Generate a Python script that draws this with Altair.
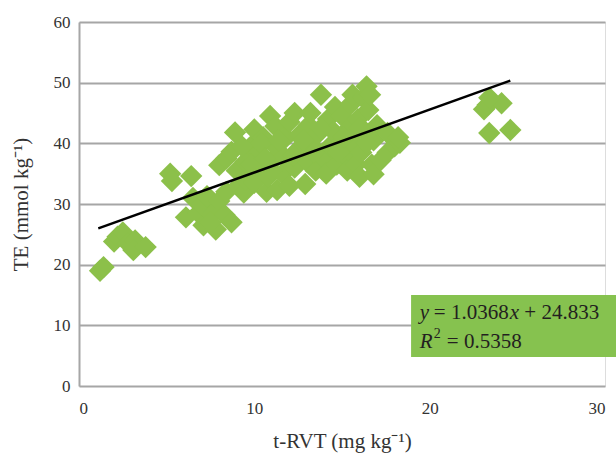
import altair as alt
import pandas as pd

# scatter data (t-RVT, TE)
x_vals = [1.2, 1.4,
          2.0, 2.2, 2.5, 2.8, 3.2, 3.1, 3.8,
          5.2, 5.3, 6.4,
          6.1, 6.5, 6.8, 7.1, 7.0, 7.3, 7.6, 7.8, 8.0, 8.3, 8.7, 8.4, 7.5,
          8.0, 8.4, 8.7, 8.9, 9.1, 9.4, 9.0,
          9.5, 9.5, 9.8, 10.0, 10.0, 10.2, 10.3, 10.5, 10.7, 10.8, 10.9, 11.0, 11.2, 11.2,
          11.3, 11.6, 11.7, 11.8, 12.0, 12.0, 12.3, 12.3, 12.5, 12.6, 12.9, 13.0, 13.1, 13.2,
          13.3, 13.5, 13.6, 13.8, 14.0, 14.1, 14.2, 14.3, 14.5, 14.6, 14.7, 14.9, 15.0, 15.2,
          15.3, 15.4, 15.5, 15.6, 15.7, 15.8, 15.9, 16.0, 16.1, 16.2, 16.3, 16.4, 16.5, 16.6,
          16.7, 16.8, 16.8, 17.0, 17.2, 17.6, 17.6, 18.0, 18.3, 18.2,
          9.8, 10.4, 11.4, 11.0, 12.2, 12.8, 13.4, 13.8, 14.8, 15.1, 16.4, 16.0, 10.6, 9.3,
          23.1, 23.3, 24.1, 23.4, 24.6, 23.4]
y_vals = [19.0, 19.6,
          23.8, 24.6, 25.3, 23.5, 24.0, 22.4, 22.9,
          35.0, 33.8, 34.6,
          27.8, 31.0, 28.5, 26.5, 29.8, 31.3, 28.3, 25.8, 30.5, 28.2, 27.0, 32.0, 27.0,
          36.4, 37.5, 38.6, 41.8, 33.0, 31.9, 35.5,
          34.0, 37.0, 39.5, 42.3, 33.5, 36.0, 38.5, 41.0, 32.0, 34.5, 44.5, 37.0, 39.5, 42.8,
          32.3, 35.0, 37.8, 41.0, 43.5, 33.0, 45.0, 36.0, 39.0, 41.5, 33.3, 37.0, 43.0, 45.0,
          39.5, 35.5, 41.5, 48.0, 37.5, 35.0, 44.0, 39.5, 42.0, 46.0, 36.5, 40.0, 44.5, 38.0,
          35.5, 42.5, 46.5, 48.0, 40.0, 36.5, 44.0, 34.5, 38.5, 47.5, 42.0, 49.4, 45.5, 48.0,
          36.5, 34.9, 40.5, 43.0, 37.2, 38.5, 41.7, 39.5, 40.1, 41.0,
          36.5, 40.0, 40.5, 35.5, 38.0, 40.5, 38.5, 42.5, 38.5, 41.0, 40.0, 42.5, 37.5, 39.5,
          45.6, 46.3, 46.6, 41.7, 42.2, 47.5]

# regression line
slope = 1.0368
intercept = 24.833
line_x = [1.1, 24.6]
line_y = [slope * v + intercept for v in line_x]

# equation box (data units)
box_x = [18.94, 30.7]
box_y = [15.0, 4.8]

x_ticks = [0, 10, 20, 30]
y_ticks = [0, 10, 20, 30, 40, 50, 60]

FONT = "Liberation Serif"
GREEN = "#8cc04a"
TXT = "#231f20"

pts = pd.DataFrame({"x": x_vals, "y": y_vals})
line_df = pd.DataFrame({"x": line_x, "y": line_y})
box_df = pd.DataFrame({"x": [box_x[0]], "x2": [box_x[1]], "y": [box_y[0]], "y2": [box_y[1]]})

xscale = alt.Scale(domain=[0, 30], nice=False, zero=False)
yscale = alt.Scale(domain=[0, 60], nice=False)

xaxis = alt.Axis(values=x_ticks, grid=False, domain=False, ticks=False,
                 labelFont=FONT, labelFontSize=17, labelColor="#333333", labelPadding=14,
                 title="t-RVT (mg kg⁻¹)", titleFont=FONT, titleFontSize=21,
                 titleFontWeight="normal", titleColor="#333333", titlePadding=14)
yaxis = alt.Axis(values=y_ticks, grid=True, gridColor="#a6a6a6", gridWidth=2,
                 domain=True, domainColor="#a6a6a6", domainWidth=2, ticks=False,
                 labelFont=FONT, labelFontSize=17, labelColor="#333333", labelPadding=9,
                 title="TE (mmol kg⁻¹)", titleFont=FONT, titleFontSize=21,
                 titleFontWeight="normal", titleColor="#333333", titlePadding=22)

points = alt.Chart(pts).mark_point(shape="diamond", filled=True, size=500,
                                   color=GREEN, opacity=1).encode(
    x=alt.X("x:Q", scale=xscale, axis=xaxis),
    y=alt.Y("y:Q", scale=yscale, axis=yaxis),
)

reg = alt.Chart(line_df).mark_line(color="black", strokeWidth=2.5).encode(
    x=alt.X("x:Q", scale=xscale), y=alt.Y("y:Q", scale=yscale))

box = alt.Chart(box_df).mark_rect(color="#86c24f", opacity=1).encode(
    x=alt.X("x:Q", scale=xscale), x2="x2:Q",
    y=alt.Y("y:Q", scale=yscale), y2="y2:Q")

tx = box_x[0] + 0.5
segs = pd.DataFrame({
    "x": [tx] * 7,
    "y": [12.0, 12.0, 12.0, 12.0, 7.2, 7.2, 7.2],
    "t": ["y", "= 1.0368", "x", "+ 24.833", "R", "2", "= 0.5358"],
    "dx": [0, 14.0, 90.0, 104.5, 0, 14.0, 27.0],
    "dy": [0, 0, 0, 0, 0, -8, 0],
    "st": ["italic", "normal", "italic", "normal", "italic", "normal", "normal"],
    "fs": [21, 21, 21, 21, 21, 14, 21],
})

texts = []
for i, r in segs.iterrows():
    texts.append(alt.Chart(segs.iloc[[i]]).mark_text(
        align="left", baseline="middle", font=FONT, fontSize=int(r["fs"]),
        fontStyle=r["st"], color=TXT, dx=float(r["dx"]), dy=float(r["dy"])).encode(
        x=alt.X("x:Q", scale=xscale), y=alt.Y("y:Q", scale=yscale), text="t:N"))

chart = alt.layer(points, reg, box, *texts).properties(
    width=526, height=364,
    autosize=alt.AutoSizeParams(type="none"),
    padding={"left": 79, "top": 22, "right": 11, "bottom": 73},
).configure_view(stroke=None).configure(background="white")

chart.save("out.html", embed_options={"renderer": "svg", "actions": False})
